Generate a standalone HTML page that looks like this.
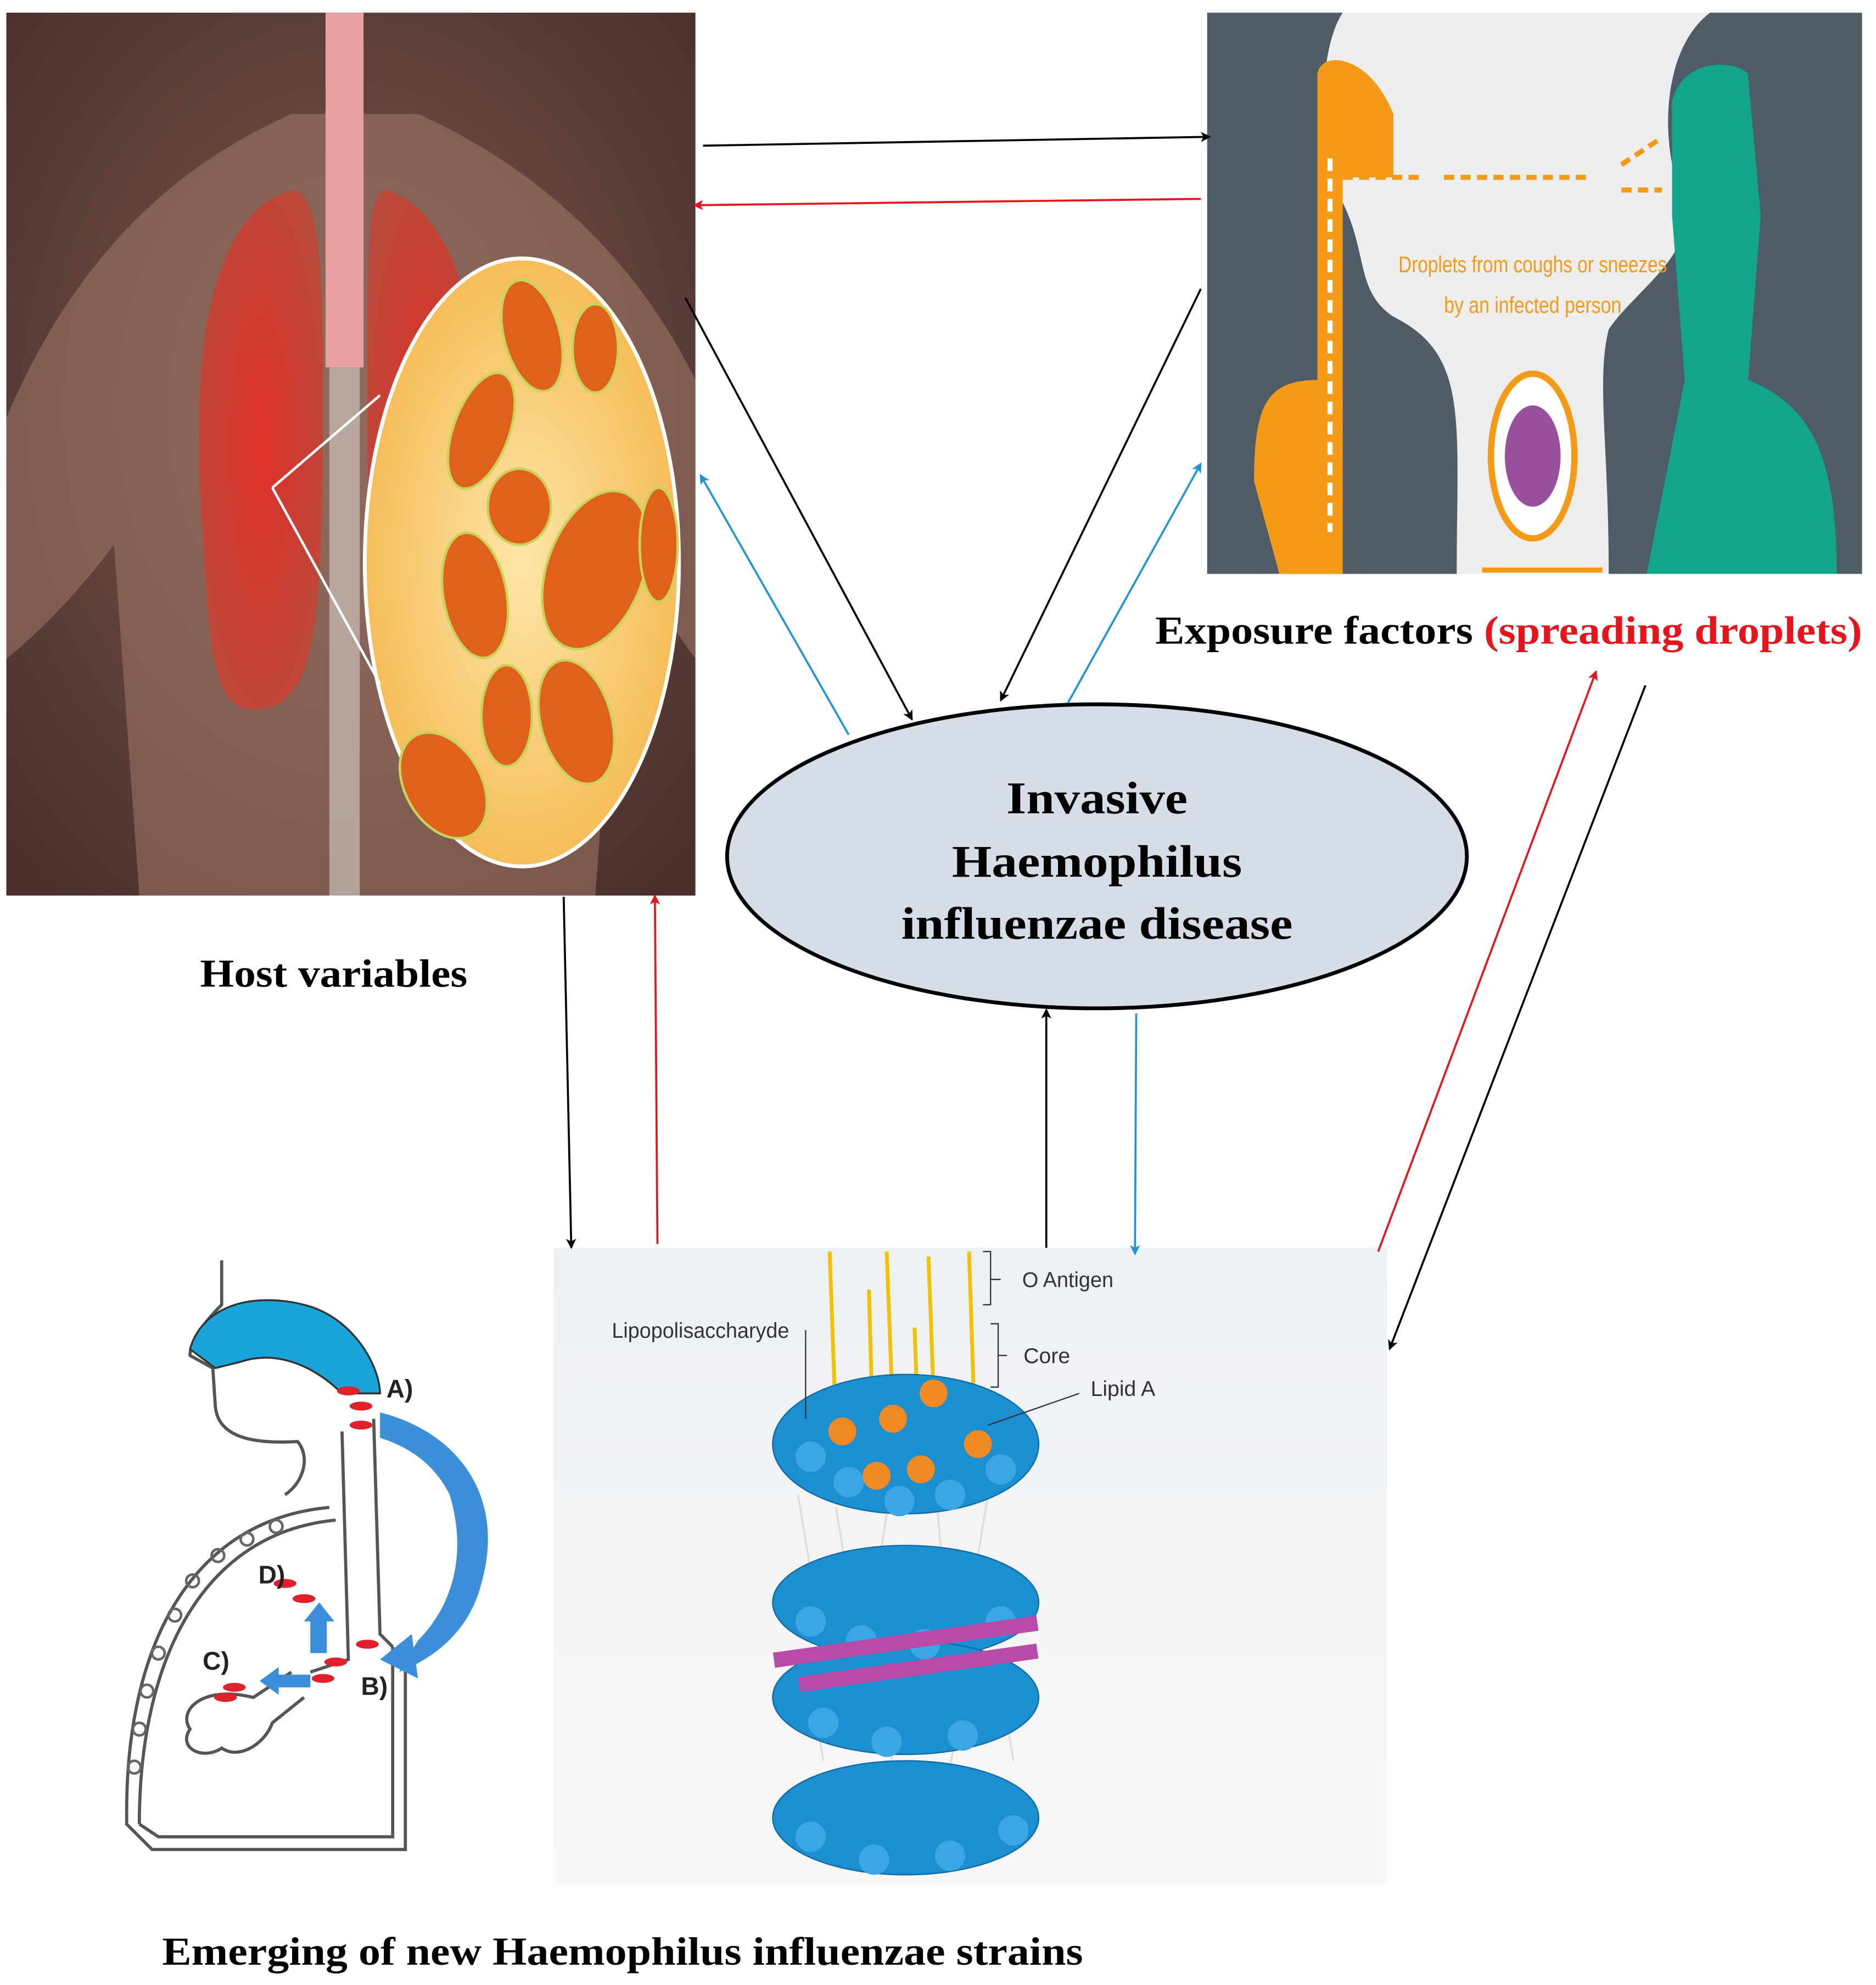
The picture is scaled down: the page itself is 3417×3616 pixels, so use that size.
<!DOCTYPE html>
<html><head><meta charset="utf-8"><style>
html,body{margin:0;padding:0;background:#fff;}
svg{display:block;}
</style></head><body>
<svg width="3417" height="3616" viewBox="0 0 1481 1567" preserveAspectRatio="none" xmlns="http://www.w3.org/2000/svg">
<defs>
<marker id="ak" markerWidth="8" markerHeight="8" refX="7" refY="4" orient="auto" markerUnits="userSpaceOnUse"><path d="M0,0 L8,4 L0,8 L2,4z" fill="#000"/></marker>
<marker id="ar" markerWidth="8" markerHeight="8" refX="7" refY="4" orient="auto" markerUnits="userSpaceOnUse"><path d="M0,0 L8,4 L0,8 L2,4z" fill="#e8141b"/></marker>
<marker id="ab" markerWidth="8" markerHeight="8" refX="7" refY="4" orient="auto" markerUnits="userSpaceOnUse"><path d="M0,0 L8,4 L0,8 L2,4z" fill="#1f95d8"/></marker>
<radialGradient id="hostbg" cx="0.5" cy="0.45" r="0.7"><stop offset="0" stop-color="#7d5a4e"/><stop offset="1" stop-color="#4a2f2c"/></radialGradient>
<radialGradient id="lens" cx="0.5" cy="0.5" r="0.6"><stop offset="0" stop-color="#fde6a8"/><stop offset="1" stop-color="#f4b64a"/></radialGradient>
<radialGradient id="lung" cx="0.5" cy="0.5" r="0.6"><stop offset="0" stop-color="#e0302a"/><stop offset="1" stop-color="#b94a3a"/></radialGradient>
<linearGradient id="lpsbg" x1="0" y1="0" x2="0" y2="1"><stop offset="0" stop-color="#eef1f4"/><stop offset="1" stop-color="#f7f8f9"/></linearGradient>
</defs>

<rect x="5" y="10" width="544" height="697" fill="url(#hostbg)"/>
<path d="M5,330 C60,200 140,130 230,90 L330,90 C420,130 500,200 549,300 L549,520 C520,480 500,450 490,430 L470,707 L110,707 L90,430 C60,470 30,500 5,520z" fill="#a0786a" opacity="0.55"/>
<rect x="257" y="10" width="30" height="280" fill="#e8a0a0"/>
<path d="M230,150 C160,170 150,300 160,420 C165,520 170,560 200,560 C250,560 255,500 255,300 C255,200 250,150 230,150z" fill="url(#lung)"/>
<path d="M305,150 C370,170 390,300 380,420 C375,520 360,560 330,560 C295,560 290,500 290,300 C290,200 290,150 305,150z" fill="url(#lung)"/>
<rect x="260" y="290" width="24" height="417" fill="#c9c2bc" opacity="0.7"/>
<ellipse cx="412" cy="444" rx="124" ry="240" fill="url(#lens)" stroke="#fff" stroke-width="3"/>
<path d="M215,385 L300,312 M215,385 L300,540" stroke="#fff" stroke-width="2" fill="none"/>
<g fill="#e0611c" stroke="#c8d35a" stroke-width="2">
<ellipse cx="420" cy="265" rx="22" ry="45" transform="rotate(-15 420 265)"/>
<ellipse cx="380" cy="340" rx="22" ry="48" transform="rotate(20 380 340)"/>
<ellipse cx="470" cy="275" rx="18" ry="35"/>
<ellipse cx="410" cy="400" rx="25" ry="30"/>
<ellipse cx="470" cy="450" rx="38" ry="65" transform="rotate(20 470 450)"/>
<ellipse cx="375" cy="470" rx="25" ry="50" transform="rotate(-10 375 470)"/>
<ellipse cx="455" cy="570" rx="28" ry="50" transform="rotate(-15 455 570)"/>
<ellipse cx="400" cy="565" rx="20" ry="40"/>
<ellipse cx="350" cy="620" rx="30" ry="45" transform="rotate(-30 350 620)"/>
<ellipse cx="520" cy="430" rx="15" ry="45"/>
</g>

<rect x="953" y="10" width="517" height="443" fill="#eeeeee"/>
<path d="M953,10 L1060,10 C1040,40 1040,120 1060,160 C1080,200 1070,230 1100,250 C1160,280 1150,330 1150,453 L953,453z" fill="#4d5c67"/>
<path d="M1470,10 L1350,10 C1310,40 1310,120 1330,160 C1340,200 1290,230 1270,260 C1260,300 1270,350 1270,453 L1470,453z" fill="#4d5c67"/>
<path d="M1040,60 C1040,40 1080,40 1100,90 L1100,140 L1060,140 L1060,453 L1010,453 L990,380 C990,320 1000,300 1040,300z" fill="#f59a16"/>
<path d="M1320,80 C1330,40 1380,50 1380,60 L1390,170 L1380,300 C1430,320 1450,360 1450,453 L1300,453 L1330,300 L1320,170z" fill="#12a58a"/>
<path d="M1050,125 L1050,420" stroke="#fff" stroke-width="4" stroke-dasharray="10,6" fill="none"/>
<path d="M1060,140 H1120 M1140,140 H1255 M1280,130 L1310,110 M1280,150 H1312" stroke="#f59a16" stroke-width="4" stroke-dasharray="8,5"/>
<ellipse cx="1210" cy="360" rx="33" ry="65" fill="#fff" stroke="#f59a16" stroke-width="5"/>
<ellipse cx="1210" cy="360" rx="22" ry="40" fill="#9a4f9c"/>
<line x1="1170" y1="450" x2="1265" y2="450" stroke="#f59a16" stroke-width="4"/>
<text x="1210" y="215" font-family="Liberation Sans Narrow, Liberation Sans, sans-serif" font-size="18" fill="#f59a16" text-anchor="middle" textLength="212" lengthAdjust="spacingAndGlyphs">Droplets from coughs or sneezes</text>
<text x="1210" y="247" font-family="Liberation Sans Narrow, Liberation Sans, sans-serif" font-size="18" fill="#f59a16" text-anchor="middle" textLength="140" lengthAdjust="spacingAndGlyphs">by an infected person</text>

<text x="912" y="508" font-family="Liberation Serif, serif" font-weight="bold" font-size="31" textLength="558" lengthAdjust="spacingAndGlyphs">Exposure factors <tspan fill="#e8141b">(spreading droplets)</tspan></text>

<ellipse cx="866" cy="676" rx="292" ry="120" fill="#d6dde6" stroke="#000" stroke-width="3"/>
<g font-family="Liberation Serif, serif" font-weight="bold" font-size="36" text-anchor="middle">
<text x="866" y="642" textLength="143" lengthAdjust="spacingAndGlyphs">Invasive</text>
<text x="866" y="692" textLength="229" lengthAdjust="spacingAndGlyphs">Haemophilus</text>
<text x="866" y="741" textLength="309" lengthAdjust="spacingAndGlyphs">influenzae disease</text>
</g>

<text x="158" y="779" font-family="Liberation Serif, serif" font-weight="bold" font-size="31" textLength="211" lengthAdjust="spacingAndGlyphs">Host variables</text>

<g fill="none" stroke="#555" stroke-width="2.5">
<path d="M175,995 L175,1030 C160,1045 150,1060 150,1070 L168,1080 L170,1110 C172,1135 200,1140 235,1138 C245,1150 240,1170 225,1180"/>
<path d="M270,1130 L275,1310 L245,1320 M295,1120 L300,1290 L310,1300"/>
<path d="M100,1430 C100,1300 150,1200 260,1190 M110,1440 C110,1310 160,1210 265,1200"/>
<path d="M100,1430 L100,1440 L120,1460 L320,1460 L320,1300 M110,1440 L125,1450 L310,1450 L310,1300"/>
<path d="M230,1320 L200,1340 C160,1330 140,1350 150,1365 C140,1380 160,1390 175,1380 C190,1390 210,1375 215,1360 L240,1340"/>
</g>
<g fill="none" stroke="#666" stroke-width="2">
<circle cx="218" cy="1205" r="5"/><circle cx="195" cy="1215" r="5"/><circle cx="172" cy="1228" r="5"/><circle cx="152" cy="1248" r="5"/><circle cx="138" cy="1275" r="5"/><circle cx="125" cy="1305" r="5"/><circle cx="116" cy="1335" r="5"/><circle cx="110" cy="1365" r="5"/><circle cx="106" cy="1395" r="5"/>
</g>
<path d="M150,1065 C160,1030 200,1020 240,1030 C280,1040 300,1080 300,1100 L270,1100 C250,1080 220,1065 190,1075 L170,1080z" fill="#1aa3d8" stroke="#333" stroke-width="1.5"/>
<path d="M300,1115 C360,1130 400,1180 380,1250 C370,1290 340,1310 315,1320 L330,1295 C355,1270 370,1230 355,1180 C340,1150 315,1140 300,1135z" fill="#3a8fd8"/>
<path d="M300,1310 L325,1290 L330,1325z" fill="#3a8fd8"/>
<g fill="#e0202a">
<ellipse cx="275" cy="1098" rx="9" ry="3.5"/><ellipse cx="285" cy="1110" rx="9" ry="3.5"/><ellipse cx="285" cy="1125" rx="9" ry="3.5"/>
<ellipse cx="225" cy="1250" rx="9" ry="3.5"/><ellipse cx="240" cy="1262" rx="9" ry="3.5"/>
<ellipse cx="265" cy="1312" rx="9" ry="3.5"/><ellipse cx="255" cy="1325" rx="9" ry="3.5"/><ellipse cx="290" cy="1298" rx="9" ry="3.5"/>
<ellipse cx="185" cy="1332" rx="9" ry="3.5"/><ellipse cx="178" cy="1340" rx="9" ry="3.5"/>
</g>
<path d="M245,1305 L245,1280 L240,1280 L252,1265 L264,1280 L258,1280 L258,1305z" fill="#3a8fd8"/>
<path d="M245,1322 L220,1322 L220,1316 L205,1327 L220,1338 L220,1332 L245,1332z" fill="#3a8fd8"/>
<g font-family="Liberation Sans, sans-serif" font-weight="bold" font-size="20" fill="#222">
<text x="305" y="1103">A)</text><text x="285" y="1338">B)</text><text x="160" y="1318">C)</text><text x="204" y="1250">D)</text>
</g>

<rect x="437" y="985" width="658" height="503" fill="url(#lpsbg)"/>
<g stroke="#f2c200" stroke-width="3" fill="none">
<path d="M655,988 L660,1130 M700,988 L705,1120 M733,992 L737,1100 M765,988 L770,1140 M686,1018 L690,1165 M722,1048 L726,1160"/>
</g>
<g stroke="#ddd" stroke-width="1.5"><path d="M630,1180 L640,1240 M660,1190 L670,1250 M700,1195 L690,1260 M740,1190 L745,1250 M780,1180 L770,1240 M640,1330 L650,1390 M700,1340 L705,1400 M760,1335 L750,1395 M790,1330 L800,1390"/></g>
<g fill="#1c8fd0" stroke="#0f6aa3" stroke-width="1">
<ellipse cx="715" cy="1140" rx="105" ry="55"/>
<ellipse cx="715" cy="1265" rx="105" ry="45"/>
<ellipse cx="715" cy="1340" rx="105" ry="45"/>
<ellipse cx="715" cy="1435" rx="105" ry="45"/>
</g>
<g fill="#3aa6e3">
<circle cx="640" cy="1150" r="12"/><circle cx="670" cy="1170" r="12"/><circle cx="710" cy="1185" r="12"/><circle cx="750" cy="1180" r="12"/><circle cx="790" cy="1160" r="12"/>
<circle cx="640" cy="1280" r="12"/><circle cx="680" cy="1295" r="12"/><circle cx="730" cy="1298" r="12"/><circle cx="790" cy="1280" r="12"/>
<circle cx="650" cy="1360" r="12"/><circle cx="700" cy="1375" r="12"/><circle cx="760" cy="1370" r="12"/>
<circle cx="640" cy="1450" r="12"/><circle cx="690" cy="1468" r="12"/><circle cx="750" cy="1465" r="12"/><circle cx="800" cy="1445" r="12"/>
</g>
<g fill="#b84aa8"><rect x="610" y="1290" width="210" height="12" transform="rotate(-8 715 1296)"/><rect x="630" y="1312" width="190" height="12" transform="rotate(-8 715 1318)"/></g>
<g fill="#f08a24"><circle cx="665" cy="1130" r="11"/><circle cx="705" cy="1120" r="11"/><circle cx="737" cy="1100" r="11"/><circle cx="772" cy="1140" r="11"/><circle cx="692" cy="1165" r="11"/><circle cx="727" cy="1160" r="11"/></g>
<g stroke="#333" stroke-width="1" fill="none">
<path d="M636,1050 L636,1120 M776,988 L782,988 L782,1030 L776,1030 M782,1010 L790,1010 M782,1045 L788,1045 L788,1095 L782,1095 M788,1070 L795,1070 M780,1125 L852,1100"/>
</g>
<g font-family="Liberation Sans Narrow, Liberation Sans, sans-serif" font-size="17" fill="#333">
<text x="807" y="1016" textLength="72" lengthAdjust="spacingAndGlyphs">O Antigen</text><text x="808" y="1076">Core</text><text x="861" y="1102">Lipid A</text><text x="483" y="1056" textLength="140" lengthAdjust="spacingAndGlyphs">Lipopolisaccharyde</text>
</g>

<text x="128" y="1551" font-family="Liberation Serif, serif" font-weight="bold" font-size="31" textLength="727" lengthAdjust="spacingAndGlyphs">Emerging of new Haemophilus influenzae strains</text>

<g stroke-width="1.6" fill="none">
<line x1="555" y1="115" x2="955" y2="108" stroke="#000" marker-end="url(#ak)"/>
<line x1="948" y1="157" x2="548" y2="162" stroke="#e8141b" marker-end="url(#ar)"/>
<line x1="541" y1="235" x2="720" y2="568" stroke="#000" marker-end="url(#ak)"/>
<line x1="670" y1="580" x2="553" y2="375" stroke="#1f95d8" marker-end="url(#ab)"/>
<line x1="948" y1="228" x2="790" y2="553" stroke="#000" marker-end="url(#ak)"/>
<line x1="843" y1="555" x2="948" y2="366" stroke="#1f95d8" marker-end="url(#ab)"/>
<line x1="445" y1="708" x2="451" y2="985" stroke="#000" marker-end="url(#ak)"/>
<line x1="519" y1="982" x2="517" y2="707" stroke="#e8141b" marker-end="url(#ar)"/>
<line x1="826" y1="985" x2="826" y2="797" stroke="#000" marker-end="url(#ak)"/>
<line x1="897" y1="800" x2="896" y2="990" stroke="#1f95d8" marker-end="url(#ab)"/>
<line x1="1088" y1="988" x2="1260" y2="530" stroke="#e8141b" marker-end="url(#ar)"/>
<line x1="1299" y1="541" x2="1097" y2="1065" stroke="#000" marker-end="url(#ak)"/>
</g>
</svg>
</body></html>
